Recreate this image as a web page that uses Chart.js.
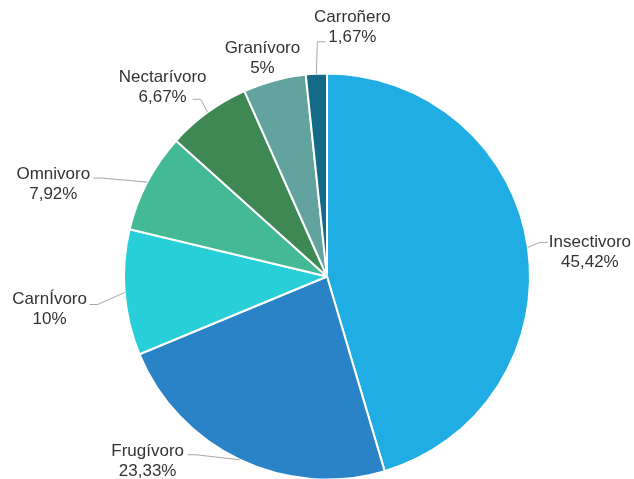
<!DOCTYPE html>
<html lang="es">
<head>
  <meta charset="UTF-8" />
  <title>Dieta</title>
  <style>
    html, body {
      margin: 0;
      padding: 0;
      background: #ffffff;
    }
    canvas {
      display: block;
    }
  </style>
</head>
<body>
  <canvas id="pieCanvas" width="634" height="479"></canvas>

  <script src="https://cdn.jsdelivr.net/npm/chart.js"></script>
  <script>
    // diet categories, shares in percent
    const categories = ['Insectivoro', 'Frugívoro', 'CarnÍvoro', 'Omnivoro', 'Nectarívoro', 'Granívoro', 'Carroñero'];
    const shares = [45.42, 23.33, 10, 7.92, 6.67, 5, 1.67];
    const shareLabels = ['45,42%', '23,33%', '10%', '7,92%', '6,67%', '5%', '1,67%'];
    const colors = ['#1fade4', '#2a82c7', '#29cfd8', '#44b996', '#3e8853', '#62a39f', '#156a88'];

    // label placement: text centre relative to the slice's outer mid point,
    // and where the leader line meets the text (relative to text centre)
    const textOffset = [[62, 3], [-92, 0], [-75, 15], [-94, 0], [-45, -27], [-12, -24], [36, -48]];
    const leaderTail = [[-42, -8], [40, -5], [40, -3], [40, -4], [30, 14], null, [-27, 16]];

    const calloutPlugin = {
      id: 'callouts',
      afterDatasetsDraw(chart) {
        const ctx = chart.ctx;
        const arcs = chart.getDatasetMeta(0).data;
        ctx.save();
        arcs.forEach((arc, i) => {
          const mid = (arc.startAngle + arc.endAngle) / 2;
          const ax = arc.x + arc.outerRadius * Math.cos(mid);
          const ay = arc.y + arc.outerRadius * Math.sin(mid);
          const tx = ax + textOffset[i][0];
          const ty = ay + textOffset[i][1];

          if (leaderTail[i]) {
            const ex = tx + leaderTail[i][0];
            const ey = ty + leaderTail[i][1];
            const kx = ex + Math.sign(ax - ex) * 8;
            ctx.beginPath();
            ctx.moveTo(ex, ey);
            ctx.lineTo(kx, ey);
            ctx.lineTo(ax, ay);
            ctx.lineWidth = 1;
            ctx.strokeStyle = '#a6a6a6';
            ctx.stroke();
          }

          ctx.fillStyle = '#333333';
          ctx.font = '17px "Liberation Sans", Arial, sans-serif';
          ctx.textAlign = 'center';
          ctx.textBaseline = 'middle';
          ctx.fillText(categories[i], tx, ty - 8);
          ctx.fillText(shareLabels[i], tx, ty + 12);
        });
        ctx.restore();
      }
    };

    new Chart(document.getElementById('pieCanvas'), {
      type: 'pie',
      data: {
        labels: categories,
        datasets: [{
          data: shares,
          backgroundColor: colors,
          borderColor: '#ffffff',
          borderWidth: 2
        }]
      },
      options: {
        responsive: false,
        animation: false,
        radius: 203,
        layout: {
          padding: { left: 20, right: 0, top: 74, bottom: 0 }
        },
        plugins: {
          legend: { display: false },
          tooltip: { enabled: false }
        }
      },
      plugins: [calloutPlugin]
    });
  </script>
</body>
</html>
